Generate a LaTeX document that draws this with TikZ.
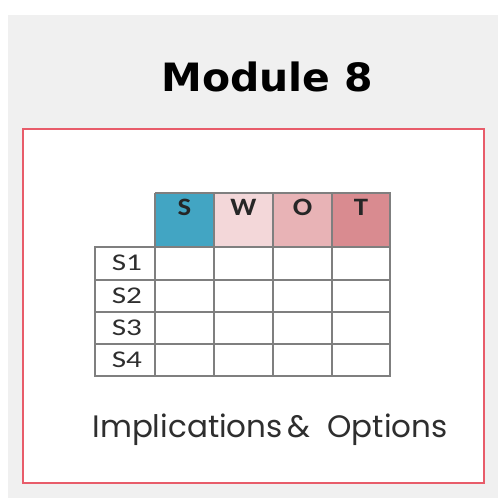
\documentclass[tikz,border=0pt]{standalone}
\usepackage{fontspec}
\setmainfont{Carlito}
\newfontfamily\titlefont{DejaVu Sans}
\newfontfamily\capfont{Poppins}
\definecolor{bggrey}{HTML}{F0F0F0}
\definecolor{framered}{HTML}{E85C6A}
\definecolor{scol}{HTML}{42A5C3}
\definecolor{wcol}{HTML}{F3D7D9}
\definecolor{ocol}{HTML}{E8B3B6}
\definecolor{tcol}{HTML}{D98B90}
\definecolor{gridgrey}{HTML}{7F7F7F}
\definecolor{txtgrey}{HTML}{2E2E2E}
\tikzset{
  gridline/.style={draw=gridgrey, line width=1.1pt},
  headtxt/.style={font=\fontsize{25}{25}\selectfont\bfseries, text=black!85, inner sep=0pt, anchor=center, xscale=1.15, transform shape},
  rowtxt/.style={font=\fontsize{24}{24}\selectfont, text=txtgrey, inner sep=0pt, anchor=center, xscale=1.3, transform shape},
}
\begin{document}
\begin{tikzpicture}[x=1pt,y=-1pt]
\useasboundingbox (0,0) rectangle (498,498);
\fill[white] (0,0) rectangle (498,498);
\fill[bggrey] (8,15) rectangle (498,498);
\draw[draw=framered, line width=2.2pt, fill=white] (23,129) rectangle (484,483);
% header fills
\fill[scol] (155,193) rectangle (214,247);
\fill[wcol] (214,193) rectangle (273,247);
\fill[ocol] (273,193) rectangle (332,247);
\fill[tcol] (332,193) rectangle (390,247);
% grid
\draw[gridline] (95,247) rectangle (390,376);
\draw[gridline] (155,193) -- (390,193) -- (390,247);
\foreach \yy in {247,280,312,344} \draw[gridline] (95,\yy) -- (390,\yy);
\foreach \xx in {155,214,273,332} \draw[gridline] (\xx,193) -- (\xx,376);
% header labels
\node[headtxt] (hs) at (184.5,207) {S};
\node[headtxt] (hw) at (243.5,207) {W};
\node[headtxt] (ho) at (302.5,207) {O};
\node[headtxt] (ht) at (361,207) {T};
% row labels
\node[rowtxt] (r1) at (127,263) {S1};
\node[rowtxt] (r2) at (127,296) {S2};
\node[rowtxt] (r3) at (127,328) {S3};
\node[rowtxt] (r4) at (127,360) {S4};
% title
\node[font=\titlefont\fontsize{39}{39}\selectfont\bfseries, text=black, inner sep=0pt, xscale=1.05, transform shape] (title) at (267,77) {Module\,\,8};
% caption
\node[font=\capfont\fontsize{31}{31}\selectfont, text=txtgrey, inner sep=0pt] (cap) at (270,430) {Implications\,\& \ Options};
\end{tikzpicture}
\end{document}
